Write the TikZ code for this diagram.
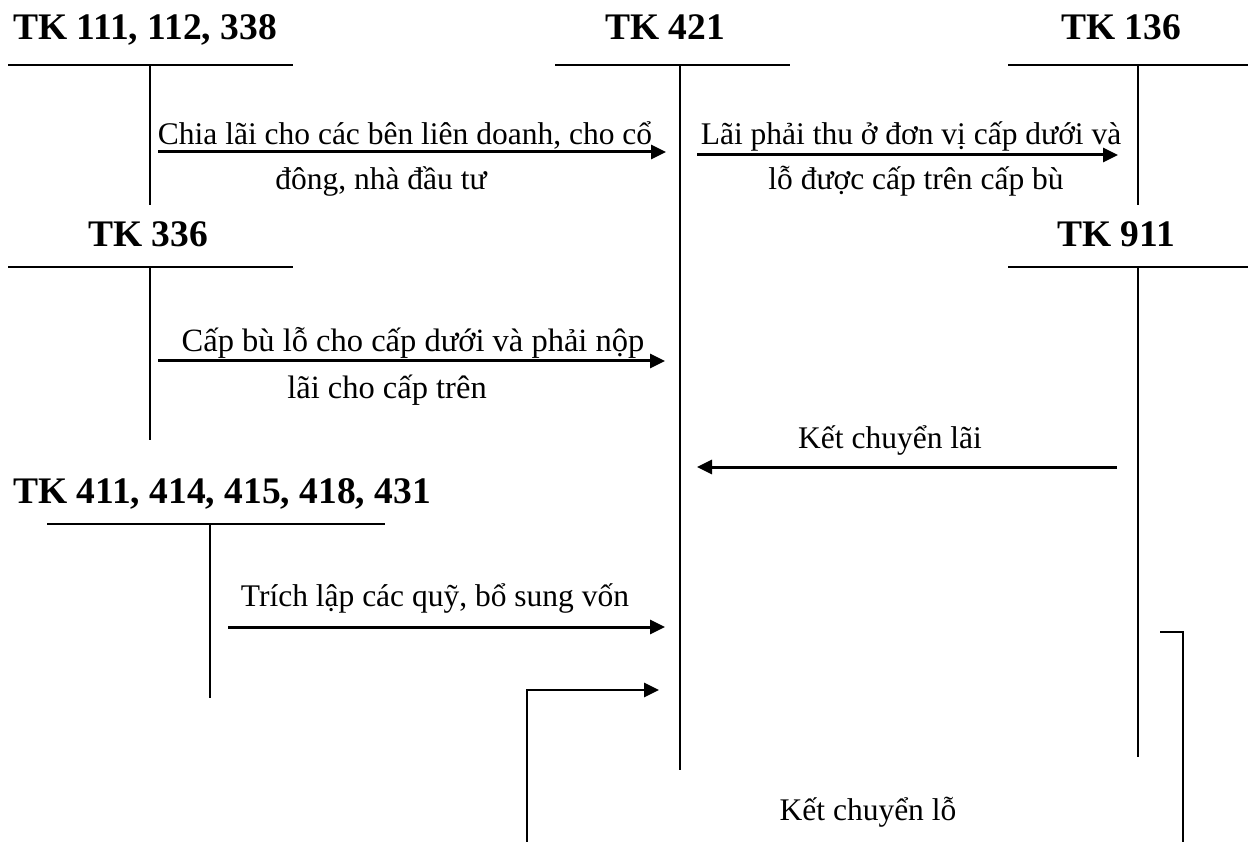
\documentclass[tikz,border=0pt]{standalone}
\usepackage{fontspec}
\setmainfont{Liberation Serif}
\usetikzlibrary{arrows.meta}
\begin{document}
\begin{tikzpicture}[x=1pt,y=-1pt,
  tline/.style={line width=2pt},
  arr/.style={line width=3pt,-{Triangle[length=15pt,width=14pt]}},
  conn/.style={line width=2pt},
  head/.style={font=\fontsize{37.5}{44}\selectfont\bfseries,inner sep=0pt,anchor=base},
  lbl/.style={font=\fontsize{31.5}{38}\selectfont,inner sep=0pt,anchor=base}]
\useasboundingbox (0,0) rectangle (1248,842);
\fill[white] (0,0) rectangle (1248,842);
% T-account headings
\node[head] (h1) at (145,40) {TK 111, 112, 338};
\node[head] (h2) at (665,40) {TK 421};
\node[head] (h3) at (1121,40) {TK 136};
\node[head] (h4) at (148,247) {TK 336};
\node[head] (h5) at (1116,247) {TK 911};
\node[head] (h6) at (222,503) {TK 411, 414, 415, 418, 431};
% T-account lines
\draw[tline] (8,65) -- (293,65) (150,65) -- (150,205);
\draw[tline] (555,65) -- (790,65) (680,65) -- (680,770);
\draw[tline] (1008,65) -- (1248,65) (1138,65) -- (1138,205);
\draw[tline] (8,267) -- (293,267) (150,267) -- (150,440);
\draw[tline] (1008,267) -- (1248,267) (1138,267) -- (1138,757);
\draw[tline] (47,524) -- (385,524) (210,524) -- (210,698);
% connector end points
\coordinate (a1s) at (158,152);  \coordinate (a1e) at (666,152);
\coordinate (a2s) at (697,155);  \coordinate (a2e) at (1118,155);
\coordinate (a3s) at (158,361);  \coordinate (a3e) at (665,361);
\coordinate (a4s) at (1117,467); \coordinate (a4e) at (697,467);
\coordinate (a5s) at (228,627);  \coordinate (a5e) at (665,627);
\coordinate (a6s) at (527,842);  \coordinate (a6c) at (527,690); \coordinate (a6e) at (659,690);
\coordinate (a7s) at (1160,632); \coordinate (a7c) at (1183,632); \coordinate (a7e) at (1183,842);
% connectors
\draw[arr] (a1s) -- (a1e);
\draw[arr] (a2s) -- (a2e);
\draw[arr] (a3s) -- (a3e);
\draw[arr] (a4s) -- (a4e);
\draw[arr] (a5s) -- (a5e);
\draw[conn] (a6s) -- (a6c) -- ([xshift=-10pt]a6e);
\draw[arr] ([xshift=-12pt]a6e) -- (a6e);
\draw[conn] (a7s) -- (a7c) -- (a7e);
% labels
\node[lbl] (l1a) at (405,145) {Chia lãi cho các bên liên doanh, cho cổ};
\node[lbl] (l1b) at (381,190) {đông, nhà đầu tư};
\node[lbl] (l2a) at (911,145) {Lãi phải thu ở đơn vị cấp dưới và};
\node[lbl] (l2b) at (916,190) {lỗ được cấp trên cấp bù};
\node[lbl,font=\fontsize{32.5}{39}\selectfont] (l3a) at (413,352) {Cấp bù lỗ cho cấp dưới và phải nộp};
\node[lbl,font=\fontsize{32.5}{39}\selectfont] (l3b) at (387,398) {lãi cho cấp trên};
\node[lbl] (l4) at (890,448) {Kết chuyển lãi};
\node[lbl] (l5) at (435,606) {Trích lập các quỹ, bổ sung vốn};
\node[lbl] (l6) at (868,820) {Kết chuyển lỗ};
\end{tikzpicture}
\end{document}
